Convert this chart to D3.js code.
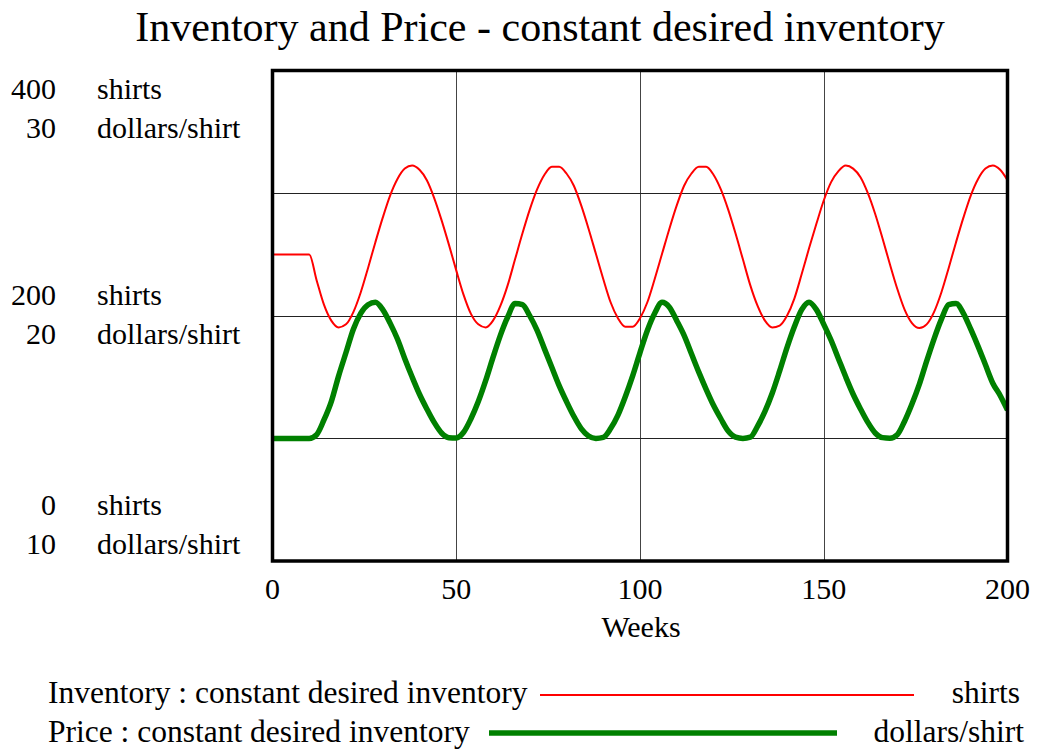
<!DOCTYPE html>
<html>
<head>
<meta charset="utf-8">
<script src="https://cdn.jsdelivr.net/npm/d3@7"></script>
<style>
  body { margin: 0; background: #fff; }
  svg { display: block; font-family: "Liberation Serif", "Times New Roman", serif; }
  .lbl { font-size: 30px; fill: #000; }
  .leg { font-size: 31.5px; fill: #000; }
</style>
</head>
<body>
<script>
// weeks 0..200, every 2 weeks
const weeks = d3.range(0, 201, 2);

// Inventory (shirts)
const inventory = [
  250, 250, 250, 250, 250, 250, 229, 209, 196, 190.5,
  193, 203, 219, 239, 260, 280, 298, 311.5, 320, 322.5,
  319, 310.5, 296, 278, 258, 237, 217, 201.5, 193, 190.5,
  196, 208, 225, 246, 267, 286.5, 303, 315, 321.5, 321.5,
  316, 306, 290, 271, 250.5, 230, 211, 198, 191, 191,
  198, 211, 230, 250.5, 271, 290, 306, 316, 321.5, 321.5,
  315, 303, 286.5, 267, 246, 225, 208, 196, 190.5, 192,
  200, 214, 234, 255, 275, 294, 309, 318, 322.5, 320,
  313, 300, 283, 263, 242, 222, 205, 194, 190, 193,
  203, 219, 239, 260, 280, 298, 311.5, 320, 322.5, 319,
  310.5
];

// Price (dollars/shirt)
const price = [
  15, 15, 15, 15, 15, 15, 15.15, 15.75, 16.5, 17.55,
  18.5, 19.45, 20.1, 20.45, 20.55, 20.25, 19.7, 19.05, 18.25, 17.5,
  16.8, 16.2, 15.65, 15.22, 15.03, 15.02, 15.25, 15.8, 16.5, 17.35,
  18.3, 19.2, 19.95, 20.5, 20.45, 20.0, 19.4, 18.65, 17.9, 17.15,
  16.5, 15.9, 15.4, 15.1, 15.0, 15.04, 15.4, 15.95, 16.7, 17.55,
  18.5, 19.4, 20.1, 20.55, 20.35, 19.8, 19.2, 18.45, 17.7, 17.0,
  16.35, 15.8, 15.3, 15.05, 15.0, 15.05, 15.5, 16.1, 16.85, 17.75,
  18.7, 19.55, 20.25, 20.55, 20.25, 19.65, 19.0, 18.25, 17.5, 16.8,
  16.2, 15.65, 15.22, 15.03, 15.01, 15.15, 15.7, 16.4, 17.2, 18.15,
  19.05, 19.85, 20.45, 20.5, 20.1, 19.45, 18.75, 18.0, 17.25, 16.75,
  16.15
];

const invTicks = [400, 200, 0];
const priceTicks = [30, 20, 10];
const xTicks = [0, 50, 100, 150, 200];

const title = "Inventory and Price - constant desired inventory";
const invUnit = "shirts";
const priceUnit = "dollars/shirt";
const legendNames = ["Inventory : constant desired inventory", "Price : constant desired inventory"];

const width = 1038, height = 752;
const plot = { left: 272.5, right: 1007.5, top: 70.5, bottom: 561 };

const svg = d3.select("body").append("svg")
  .attr("width", width)
  .attr("height", height);

let x = d3.scaleLinear().domain([0, 200]).range([plot.left, plot.right]);
let yInv = d3.scaleLinear().domain([0, 400]).range([plot.bottom, plot.top]);
let yPrice = d3.scaleLinear().domain([10, 30]).range([plot.bottom, plot.top]);

// title
svg.append("text")
  .attr("x", 540)
  .attr("y", 41)
  .attr("text-anchor", "middle")
  .style("font-size", "42px")
  .text(title);

// gridlines
let grid = svg.append("g");
grid.selectAll("line.v")
  .data([50, 100, 150])
  .enter().append("line")
  .attr("x1", d => Math.round(x(d)) + 0.5)
  .attr("x2", d => Math.round(x(d)) + 0.5)
  .attr("y1", plot.top)
  .attr("y2", plot.bottom)
  .attr("stroke", "#444")
  .attr("stroke-width", 1);
grid.selectAll("line.h")
  .data([100, 200, 300])
  .enter().append("line")
  .attr("x1", plot.left)
  .attr("x2", plot.right)
  .attr("y1", d => Math.round(yInv(d)) + 0.5)
  .attr("y2", d => Math.round(yInv(d)) + 0.5)
  .attr("stroke", "#222")
  .attr("stroke-width", 1);

svg.append("clipPath").attr("id", "clip")
  .append("rect")
  .attr("x", plot.left).attr("y", plot.top)
  .attr("width", plot.right - plot.left).attr("height", plot.bottom - plot.top);

let invLine = d3.line()
  .x((d, i) => x(weeks[i]))
  .y(d => yInv(d))
  .curve(d3.curveMonotoneX);

let priceLine = d3.line()
  .x((d, i) => x(weeks[i]))
  .y(d => yPrice(d))
  .curve(d3.curveMonotoneX);

let lines = svg.append("g").attr("clip-path", "url(#clip)");
lines.append("path")
  .attr("d", invLine(inventory))
  .attr("fill", "none")
  .attr("stroke", "#ff0000")
  .attr("stroke-width", 2);
lines.append("path")
  .attr("d", priceLine(price))
  .attr("fill", "none")
  .attr("stroke", "#008000")
  .attr("stroke-width", 5.5)
  .attr("stroke-linejoin", "round");

// frame
svg.append("rect")
  .attr("x", plot.left)
  .attr("y", plot.top)
  .attr("width", plot.right - plot.left)
  .attr("height", plot.bottom - plot.top)
  .attr("fill", "none")
  .attr("stroke", "#000")
  .attr("stroke-width", 3.5);

// left labels: two lines per tick, nudged to stay inside the frame
const nudge = [28.5, -10.5, -46];
let leftG = svg.append("g");
invTicks.forEach((v, i) => {
  let y0 = yInv(v) + nudge[i];
  leftG.append("text").attr("class", "lbl").attr("x", 56).attr("y", y0)
    .attr("text-anchor", "end").text(v);
  leftG.append("text").attr("class", "lbl").attr("x", 97).attr("y", y0).text(invUnit);
  leftG.append("text").attr("class", "lbl").attr("x", 56).attr("y", y0 + 38.5)
    .attr("text-anchor", "end").text(priceTicks[i]);
  leftG.append("text").attr("class", "lbl").attr("x", 97).attr("y", y0 + 38.5).text(priceUnit);
});

// x axis labels
svg.append("g").selectAll("text")
  .data(xTicks)
  .enter().append("text")
  .attr("class", "lbl")
  .attr("x", d => x(d))
  .attr("y", 599)
  .attr("text-anchor", "middle")
  .text(d => d);

svg.append("text")
  .attr("class", "lbl")
  .attr("x", 641)
  .attr("y", 637)
  .attr("text-anchor", "middle")
  .text("Weeks");

// legend
let legend = svg.append("g");
legend.append("text").attr("class", "leg").attr("x", 48).attr("y", 703).text(legendNames[0]);
legend.append("line")
  .attr("x1", 540).attr("x2", 914).attr("y1", 695).attr("y2", 695)
  .attr("stroke", "#ff0000").attr("stroke-width", 2);
legend.append("text").attr("class", "leg").attr("x", 1020).attr("y", 703)
  .attr("text-anchor", "end").text(invUnit);

legend.append("text").attr("class", "leg").attr("x", 48).attr("y", 742).text(legendNames[1]);
legend.append("line")
  .attr("x1", 489).attr("x2", 837).attr("y1", 733).attr("y2", 733)
  .attr("stroke", "#008000").attr("stroke-width", 5.5);
legend.append("text").attr("class", "leg").attr("x", 1024).attr("y", 742)
  .attr("text-anchor", "end").text(priceUnit);
</script>
</body>
</html>
